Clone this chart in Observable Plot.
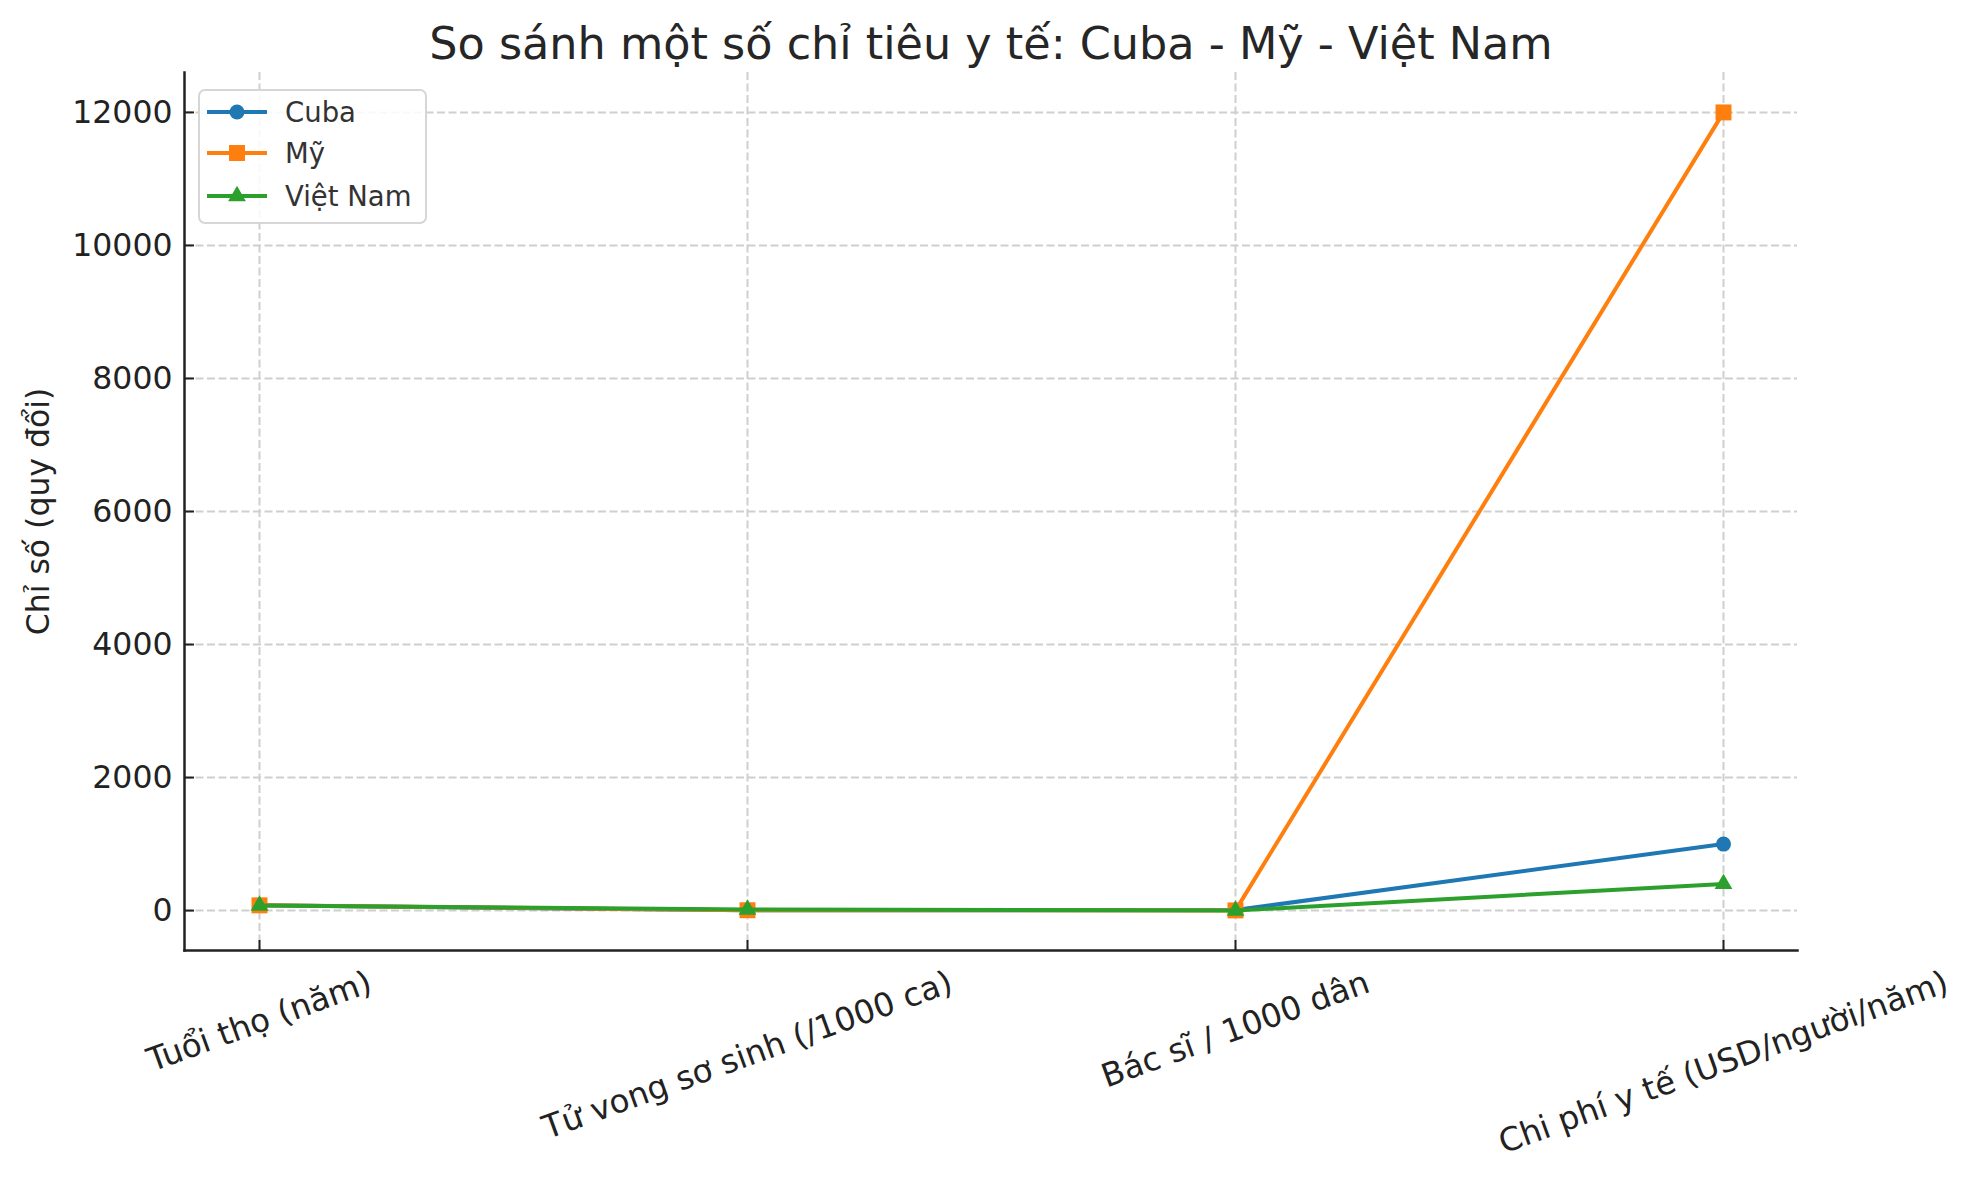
<!DOCTYPE html>
<html>
<head>
<meta charset="utf-8">
<script src="https://cdn.jsdelivr.net/npm/d3@7"></script>
<script src="https://cdn.jsdelivr.net/npm/@observablehq/plot@0.6"></script>
<style>
  html, body { margin: 0; padding: 0; background: #fff; overflow: hidden; }
  #wrap { position: relative; width: 1977px; height: 1180px; }
  #legend {
    position: absolute; left: 198px; top: 89px; width: 225px; height: 131px;
    border: 2px solid #d6d6d6; border-radius: 7px; background: rgba(255,255,255,0.85);
    font-family: "DejaVu Sans", sans-serif; font-size: 27.5px; color: #333;
  }
  .item { position: absolute; left: 7px; height: 40px; display: flex; align-items: center; }
  .item span { margin-left: 18px; }
</style>
</head>
<body>
<div id="wrap"></div>
<script>
const categories = ["Tuổi thọ (năm)", "Tử vong sơ sinh (/1000 ca)", "Bác sĩ / 1000 dân", "Chi phí y tế (USD/người/năm)"];
const cuba = [79, 4, 8.4, 1000];
const my = [79, 5.4, 2.6, 12000];
const vietnam = [75, 16, 0.8, 400];
const seriesNames = ["Cuba", "Mỹ", "Việt Nam"];
const seriesColors = ["#1f77b4", "#ff7f0e", "#2ca02c"];
const seriesSymbols = ["circle", "square", "triangle"];
const seriesR = [7.5, 9, 6.6];
const yTicks = [0, 2000, 4000, 6000, 8000, 10000, 12000];
const yDomain = [-600, 12600];
const title = "So sánh một số chỉ tiêu y tế: Cuba - Mỹ - Việt Nam";
const yLabel = "Chỉ số (quy đổi)";

const W = 1977, H = 1180;
const mL = 184, mR = 180, mT = 72, mB = 230;
const frameW = W - mL - mR, frameH = H - mT - mB;
const font = '"DejaVu Sans", sans-serif';
const tickFs = 31.5;
const xLabelFs = 32.5;

const values = [cuba, my, vietnam];
const series = seriesNames.map((name, s) =>
  categories.map((c, i) => ({ name, cat: c, value: values[s][i] }))
);

// measure label widths for matplotlib-like centered rotated labels
const ctx = document.createElement("canvas").getContext("2d");
ctx.font = `${xLabelFs}px "DejaVu Sans"`;
const ang = 20 * Math.PI / 180;
const labelMarks = categories.map(c => {
  const w = ctx.measureText(c).width;
  const h = 1.17 * xLabelFs;
  const off = 13 + (w * Math.sin(ang) + h * Math.cos(ang)) / 2;
  return Plot.text([c], {
    x: d => d, frameAnchor: "bottom", dy: off, rotate: -20,
    textAnchor: "middle", lineAnchor: "middle",
    fontSize: xLabelFs, fill: "#222", fontFamily: font
  });
});

const gridStyle = { stroke: "#cfcfcf", strokeOpacity: 1, strokeWidth: 2, strokeDasharray: "8,3.5" };

const seriesMarks = series.flatMap((rows, s) => [
  Plot.line(rows, { x: "cat", y: "value", stroke: seriesColors[s], strokeWidth: 4 }),
  Plot.dot(rows, { x: "cat", y: "value", fill: seriesColors[s], stroke: "none", symbol: () => seriesSymbols[s], r: seriesR[s] })
]);

const chart = Plot.plot({
  width: W, height: H,
  marginLeft: mL, marginRight: mR, marginTop: mT, marginBottom: mB,
  style: { fontFamily: font, background: "#fff" },
  x: { type: "point", domain: categories, padding: 0.15, axis: null },
  y: { domain: yDomain, axis: null },
  symbol: { type: "identity" },
  marks: [
    Plot.gridX(categories, gridStyle),
    Plot.gridY(yTicks, gridStyle),
    ...seriesMarks,
    Plot.frame({ anchor: "left", stroke: "#222", strokeWidth: 2.5 }),
    Plot.frame({ anchor: "bottom", stroke: "#222", strokeWidth: 2.5 }),
    Plot.tickX(categories, { x: d => d, stroke: "#222", strokeWidth: 2, insetTop: frameH - 10 }),
    Plot.tickY(yTicks, { y: d => d, stroke: "#222", strokeWidth: 2, insetRight: frameW - 10 }),
    Plot.axisY(yTicks, { tickSize: 0, tickPadding: 12, fontSize: tickFs, color: "#222", label: null, fontFamily: font, tickFormat: d3.format("d") }),
    ...labelMarks,
    Plot.text([yLabel], { frameAnchor: "left", dx: 38 - mL, rotate: -90, textAnchor: "middle", lineAnchor: "middle", fontSize: 31.5, fill: "#222", fontFamily: font }),
    Plot.text([title], { frameAnchor: "top", dy: 44 - mT, textAnchor: "middle", lineAnchor: "middle", fontSize: 44.5, fill: "#262626", fontFamily: font })
  ]
});

const wrap = document.getElementById("wrap");
wrap.appendChild(chart);

// legend
const legend = document.createElement("div");
legend.id = "legend";
const tops = [1, 42, 85];
seriesNames.forEach((name, s) => {
  const item = document.createElement("div");
  item.className = "item";
  item.style.top = tops[s] + "px";
  const svg = d3.create("svg").attr("width", 60).attr("height", 40);
  svg.append("line").attr("x1", 0).attr("x2", 60).attr("y1", 20).attr("y2", 20)
    .attr("stroke", seriesColors[s]).attr("stroke-width", 4);
  const sym = [d3.symbolCircle, d3.symbolSquare, d3.symbolTriangle][s];
  svg.append("path").attr("transform", "translate(30,20)")
    .attr("d", d3.symbol(sym, Math.PI * seriesR[s] * seriesR[s])())
    .attr("fill", seriesColors[s]);
  item.appendChild(svg.node());
  const span = document.createElement("span");
  span.textContent = name;
  item.appendChild(span);
  legend.appendChild(item);
});
wrap.appendChild(legend);
</script>
</body>
</html>
